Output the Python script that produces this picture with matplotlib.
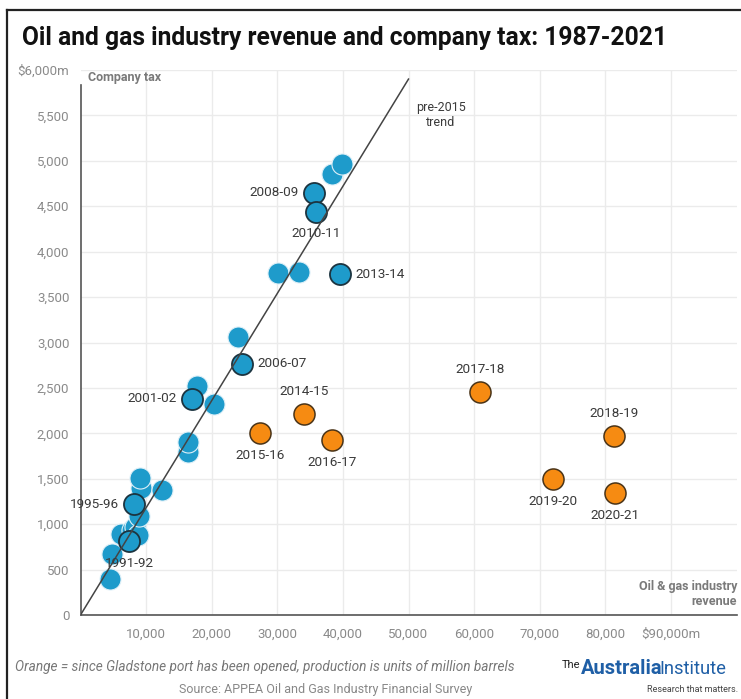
import matplotlib
matplotlib.use("Agg")
import matplotlib.pyplot as plt
from matplotlib.lines import Line2D
from matplotlib.ticker import FuncFormatter

plt.rcParams['font.family'] = ['Roboto', 'DejaVu Sans']

# ---- data ----
blue_rev = [4500, 4750, 6100, 7450, 7800, 8300, 8800, 8900, 8150, 9200, 9050, 12450,
            16450, 16450, 17050, 17700, 20350, 24050, 24570, 30150, 33350, 35600,
            35900, 38300, 39800, 39550]
blue_tax = [400, 670, 890, 815, 940, 970, 885, 1085, 1220, 1400, 1510, 1380,
            1790, 1910, 2380, 2525, 2320, 3060, 2765, 3765, 3780, 4650,
            4440, 4860, 4965, 3750]
blue_hl = ["", "", "", "1991-92", "", "", "", "", "1995-96", "", "", "",
           "", "", "2001-02", "", "", "", "2006-07", "", "", "2008-09",
           "2010-11", "", "", "2013-14"]

orange_years = ["2014-15", "2015-16", "2016-17", "2017-18", "2018-19", "2019-20", "2020-21"]
orange_rev = [34100, 27350, 38400, 60900, 81350, 72000, 81500]
orange_tax = [2215, 2000, 1925, 2460, 1975, 1495, 1340]

trend_rev = [0, 50000]
trend_tax = [0, 5900]

x_ticks = [10000, 20000, 30000, 40000, 50000, 60000, 70000, 80000, 90000]
y_ticks = [0, 500, 1000, 1500, 2000, 2500, 3000, 3500, 4000, 4500, 5000, 5500, 6000]

BLUE = '#1E9BCB'
ORANGE = '#F68B12'
GRAY = '#8a8a8a'
TXT = '#3a3a3a'

fig = plt.figure(figsize=(7.41, 6.99), dpi=100)
ax = fig.add_axes([80.5/741, 1-615/699, 656/741, 545/699])
ax.set_xlim(0, 100000)
ax.set_ylim(0, 6000)

ax.set_xticks(x_ticks)
ax.set_yticks(y_ticks)
ax.xaxis.set_major_formatter(FuncFormatter(lambda v, p: ('$%s,000m' % int(v/1000)) if v == x_ticks[-1] else f'{int(v):,}'))
ax.yaxis.set_major_formatter(FuncFormatter(lambda v, p: ('$%s,000m' % int(v/1000)) if v == y_ticks[-1] else f'{int(v):,}'))
ax.tick_params(axis='both', length=0, labelsize=9.5, labelcolor=GRAY)
ax.tick_params(axis='y', pad=8)
ax.tick_params(axis='x', pad=9)
ax.grid(True, color='#ebebeb', linewidth=1)
ax.set_axisbelow(True)
for s in ['top', 'right', 'left']:
    ax.spines[s].set_visible(False)
ax.spines['bottom'].set_color('#555555')
ax.spines['bottom'].set_linewidth(1.2)
ax.plot([0, 0], [0, 5830], color='#555555', lw=1.2, zorder=2, clip_on=False)

# points
plain = [i for i, l in enumerate(blue_hl) if not l]
hl = [i for i, l in enumerate(blue_hl) if l]
ax.scatter([blue_rev[i] for i in plain], [blue_tax[i] for i in plain], s=230,
           color=BLUE, edgecolor='#dff0f8', linewidth=0.8, zorder=3)
ax.scatter([blue_rev[i] for i in hl], [blue_tax[i] for i in hl], s=230,
           color=BLUE, edgecolor='#1c3440', linewidth=1.3, zorder=4)
ax.scatter(orange_rev, orange_tax, s=230, color=ORANGE, edgecolor='#4a3418',
           linewidth=1.1, zorder=4)

ax.plot(trend_rev, trend_tax, color='#444444', lw=1.1, zorder=5)

# labels
lab_off = {
    "1991-92": ((0, -16), 'center'),
    "1995-96": ((-11, 0), 'right'),
    "2001-02": ((-11, 0), 'right'),
    "2006-07": ((11, 0), 'left'),
    "2008-09": ((-11, 0), 'right'),
    "2010-11": ((0, -16), 'center'),
    "2013-14": ((11, 0), 'left'),
    "2014-15": ((0, 16), 'center'),
    "2015-16": ((0, -16), 'center'),
    "2016-17": ((0, -16), 'center'),
    "2017-18": ((0, 16), 'center'),
    "2018-19": ((0, 16), 'center'),
    "2019-20": ((0, -16), 'center'),
    "2020-21": ((0, -16), 'center'),
}
for i in hl:
    off, ha = lab_off[blue_hl[i]]
    ax.annotate(blue_hl[i], (blue_rev[i], blue_tax[i]), xytext=off, textcoords='offset points',
                ha=ha, va='center', fontsize=9.7, color=TXT, zorder=6)
for yr, x, y in zip(orange_years, orange_rev, orange_tax):
    off, ha = lab_off[yr]
    ax.annotate(yr, (x, y), xytext=off, textcoords='offset points',
                ha=ha, va='center', fontsize=9.7, color=TXT, zorder=6)

fig.text(88/741, 1-78/699, 'Company tax', fontsize=9,
         fontweight='bold', color='#7a7a7a', ha='left', va='center')
fig.text(737/741, 1-594/699, 'Oil & gas industry\nrevenue', fontsize=9, fontweight='bold',
         color='#7a7a7a', ha='right', va='center', linespacing=1.15)
fig.text(441/741, 1-115/699, 'pre-2015\ntrend', fontsize=9, color=TXT, ha='center',
         va='center', linespacing=1.15)

# title
fig.text(22/741, 1-38/699, 'Oil and gas industry revenue and company tax: 1987-2021',
         fontsize=17.7, fontweight='bold', color='#111111', ha='left', va='center')

# footer
fig.text(15/741, 1-667/699, 'Orange = since Gladstone port has been opened, production is units of million barrels',
         fontsize=9.8, style='italic', color='#777777', ha='left', va='center')
fig.text(326/741, 1-689/699, 'Source: APPEA Oil and Gas Industry Financial Survey',
         fontsize=9, color='#888888', ha='center', va='center')
fig.text(562/741, 1-665/699, 'The', fontsize=8, color='#222222', ha='left', va='center')
fig.text(663/741, 1-669/699, 'Australia', fontsize=14.5, fontweight='bold', color='#1f5fa6',
         ha='right', va='center')
fig.text(659/741, 1-669/699, 'Institute', fontsize=13.2, color='#1f5fa6', ha='left', va='center')
fig.text(738/741, 1-690/699, 'Research that matters.', fontsize=6.5, color='#444444',
         ha='right', va='center')

# frame
fig.add_artist(Line2D([7/741, 1], [1-10/699, 1-10/699], transform=fig.transFigure, color='#222222', lw=1.6))
fig.add_artist(Line2D([7/741, 7/741], [0, 1-10/699], transform=fig.transFigure, color='#222222', lw=1.6))

fig.savefig('out.png', dpi=100, facecolor='white')
